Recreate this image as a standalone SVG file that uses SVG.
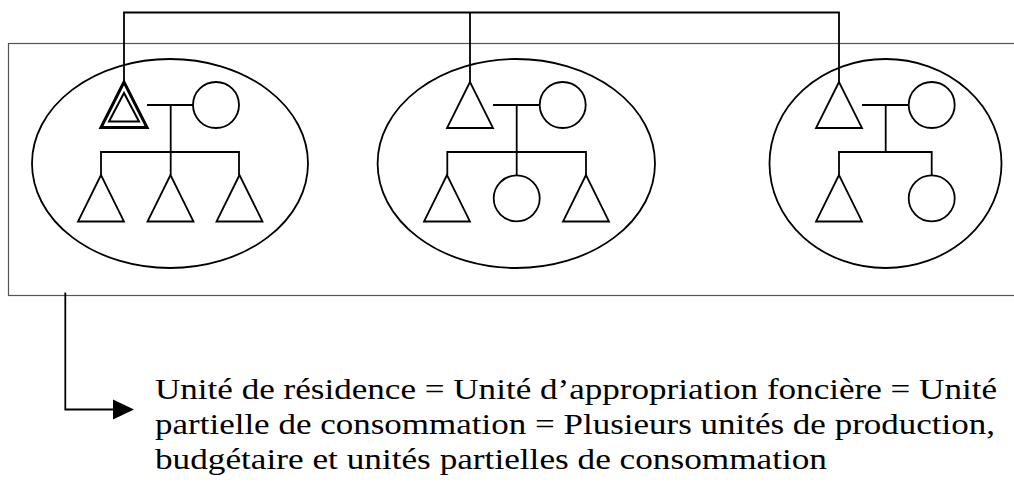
<svg xmlns="http://www.w3.org/2000/svg" width="1014" height="487" viewBox="0 0 1014 487">
<style>
.ln{fill:none;stroke:#000;stroke-width:1.8}
.sh{fill:#fff;stroke:#000;stroke-width:1.8}
.frame{fill:none;stroke:#555;stroke-width:1.2}
.txt{font-family:"Liberation Serif","Times New Roman",serif;font-size:30px;fill:#000}
</style>
<rect id="frame" class="frame" x="8.5" y="43.5" width="1020" height="252"/>
<g id="connectors">
<path class="ln" d="M124 82 V12.5 H839 V82 M470 12.5 V82"/>
<path class="ln" d="M147 105 H193 M170.7 105 V152 M101 175 V152 H239 V175 M170.7 152 V175"/>
<path class="ln" d="M493 105 H539.5 M516.7 105 V152 M447.3 175 V152 H586 V175 M516.7 152 V175"/>
<path class="ln" d="M862 105 H908.7 M885.7 105 V152 M839 175 V152 H931.7 V175"/>
<path class="ln" d="M65.3 292.5 V409.5 H114"/>
<polygon points="113,399.5 134,409.5 113,419.5" fill="#000"/>
</g>
<g id="household1">
<ellipse class="ln" cx="170" cy="163.5" rx="138" ry="104.5"/>
<polygon class="ln" style="stroke-width:3" points="124,82 101,127.5 147,127.5"/>
<polygon class="ln" style="stroke-width:2" points="124,93 109,121.5 139,121.5"/>
<circle class="sh" cx="216" cy="105" r="23"/>
<polygon class="ln" points="101,175 78,221.5 124,221.5"/>
<polygon class="ln" points="170.5,175 147.5,221.5 193.5,221.5"/>
<polygon class="ln" points="239.5,175 216.5,221.5 262.5,221.5"/>
</g>
<g id="household2">
<ellipse class="ln" cx="516.3" cy="163.5" rx="138.7" ry="104.5"/>
<polygon class="ln" points="470,82 447,128 493,128"/>
<circle class="sh" cx="562.7" cy="105" r="23"/>
<polygon class="ln" points="447,175 424,221.5 470,221.5"/>
<circle class="sh" cx="516.7" cy="198.3" r="23"/>
<polygon class="ln" points="586,175 563,221.5 609,221.5"/>
</g>
<g id="household3">
<ellipse class="ln" cx="885.5" cy="163.5" rx="116" ry="104.5"/>
<polygon class="ln" points="839,82 816,128 862,128"/>
<circle class="sh" cx="931.7" cy="105" r="23"/>
<polygon class="ln" points="839,175 816,221.5 862,221.5"/>
<circle class="sh" cx="931.7" cy="198.3" r="23"/>
</g>
<g id="caption" class="txt">
<text x="155" y="398.5" textLength="842" lengthAdjust="spacingAndGlyphs">Unité de résidence = Unité d’appropriation foncière = Unité</text>
<text x="155" y="433.5" textLength="840" lengthAdjust="spacingAndGlyphs">partielle de consommation = Plusieurs unités de production,</text>
<text x="155" y="468.5" textLength="672" lengthAdjust="spacingAndGlyphs">budgétaire et unités partielles de consommation</text>
</g>
</svg>
